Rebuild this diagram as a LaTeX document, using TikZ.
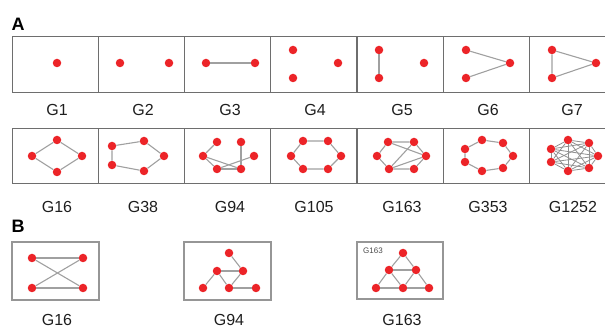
\documentclass[tikz,border=0pt]{standalone}
\usepackage{fontspec}
\setmainfont{Liberation Sans}
\definecolor{nodered}{RGB}{236,36,40}
\definecolor{edgegray}{RGB}{160,160,160}
\definecolor{boxgray}{RGB}{110,110,110}
\definecolor{bboxgray}{RGB}{150,150,150}
\definecolor{labblack}{RGB}{30,30,30}
\begin{document}
\begin{tikzpicture}[x=1pt,y=-1pt,
  v/.style={circle,fill=nodered,inner sep=0pt,minimum size=8.5pt},
  e/.style={draw=edgegray,line width=1.1pt},
  ek/.style={draw=edgegray!90!black,line width=0.8pt},
  frame/.style={draw=boxgray,line width=1pt},
  bframe/.style={draw=bboxgray,line width=1.6pt},
  lab/.style={font=\fontsize{16}{16}\selectfont,text=labblack},
  panel/.style={font=\fontsize{18}{18}\selectfont\bfseries,text=black}
]
\useasboundingbox (0,0) rectangle (605,328);
\clip (0,0) rectangle (605,328);

\node[panel] (pA) at (18,24) {A};
\node[panel] (pB) at (18,226) {B};

% ---------- Row frames ----------
\foreach \x in {12,98,184,270,357,443,529} {
  \draw[frame] (\x,37) rectangle ++(86,56);
  \draw[frame] (\x,129) rectangle ++(86,55);
}

% ---------- Row 1 labels ----------
\node[lab] (l1) at (57,110) {G1};
\node[lab] (l2) at (143,110) {G2};
\node[lab] (l3) at (230,110) {G3};
\node[lab] (l4) at (315,110) {G4};
\node[lab] (l5) at (402,110) {G5};
\node[lab] (l6) at (488,110) {G6};
\node[lab] (l7) at (572,110) {G7};

% G1
\node[v] (a1) at (57,63) {};
% G2
\node[v] (b1) at (120,63) {};
\node[v] (b2) at (169,63) {};
% G3
\node[v] (c1) at (206,63) {};
\node[v] (c2) at (255,63) {};
\draw[e] (c1) -- (c2);
% G4
\node[v] (d1) at (293,50) {};
\node[v] (d2) at (293,78) {};
\node[v] (d3) at (338,63) {};
% G5
\node[v] (f1) at (379,50) {};
\node[v] (f2) at (379,78) {};
\node[v] (f3) at (424,63) {};
\draw[e] (f1) -- (f2);
% G6
\node[v] (g1) at (466,50) {};
\node[v] (g2) at (466,78) {};
\node[v] (g3) at (510,63) {};
\draw[e] (g1) -- (g3) -- (g2);
% G7
\node[v] (h1) at (552,50) {};
\node[v] (h2) at (552,78) {};
\node[v] (h3) at (596,63) {};
\draw[e] (h1) -- (h3) -- (h2) -- (h1);

% ---------- Row 2 labels ----------
\node[lab] (m1) at (57,207) {G16};
\node[lab] (m2) at (143,207) {G38};
\node[lab] (m3) at (230,207) {G94};
\node[lab] (m4) at (314,207) {G105};
\node[lab] (m5) at (402,207) {G163};
\node[lab] (m6) at (488,207) {G353};
\node[lab] (m7) at (573,207) {G1252};

% G16
\node[v] (p1) at (32,156) {};
\node[v] (p2) at (57,140) {};
\node[v] (p3) at (82,156) {};
\node[v] (p4) at (57,172) {};
\draw[e] (p1) -- (p2) -- (p3) -- (p4) -- (p1);
% G38
\node[v] (q1) at (112,146) {};
\node[v] (q2) at (144,141) {};
\node[v] (q3) at (164,156) {};
\node[v] (q4) at (144,171) {};
\node[v] (q5) at (112,165) {};
\draw[e] (q1) -- (q2) -- (q3) -- (q4) -- (q5) -- (q1);
% G94
\node[v] (r1) at (217,142) {};
\node[v] (r2) at (241,142) {};
\node[v] (r3) at (203,156) {};
\node[v] (r4) at (254,156) {};
\node[v] (r5) at (217,169) {};
\node[v] (r6) at (241,169) {};
\draw[e] (r1) -- (r3);
\draw[e] (r3) -- (r5);
\draw[e] (r3) -- (r6);
\draw[e] (r5) -- (r6);
\draw[e] (r5) -- (r4);
\draw[e] (r6) -- (r2);
% G105
\node[v] (s1) at (303,141) {};
\node[v] (s2) at (328,141) {};
\node[v] (s3) at (341,156) {};
\node[v] (s4) at (328,169) {};
\node[v] (s5) at (303,169) {};
\node[v] (s6) at (291,156) {};
\draw[e] (s1) -- (s2) -- (s3) -- (s4) -- (s5) -- (s6) -- (s1);
% G163
\node[v] (t1) at (388,142) {};
\node[v] (t2) at (414,142) {};
\node[v] (t3) at (426,156) {};
\node[v] (t4) at (414,169) {};
\node[v] (t5) at (389,169) {};
\node[v] (t6) at (377,156) {};
\draw[e] (t6) -- (t1) -- (t2) -- (t3) -- (t4) -- (t5) -- (t6);
\draw[e] (t1) -- (t3);
\draw[e] (t5) -- (t2);
\draw[e] (t5) -- (t3);
% G353
\node[v] (u1) at (465,149) {};
\node[v] (u2) at (482,140) {};
\node[v] (u3) at (503,143) {};
\node[v] (u4) at (513,156) {};
\node[v] (u5) at (503,168) {};
\node[v] (u6) at (482,171) {};
\node[v] (u7) at (465,162) {};
\draw[e] (u1) -- (u2) -- (u3) -- (u4) -- (u5) -- (u6) -- (u7) -- (u1);
% G1252 (K7)
\node[v] (k1) at (551,149) {};
\node[v] (k2) at (568,140) {};
\node[v] (k3) at (589,143) {};
\node[v] (k4) at (598,156) {};
\node[v] (k5) at (589,168) {};
\node[v] (k6) at (568,171) {};
\node[v] (k7) at (551,162) {};
\foreach \i in {1,...,6} {
  \pgfmathtruncatemacro\nxt{\i+1}
  \foreach \j in {\nxt,...,7} {
    \draw[ek] (k\i) -- (k\j);
  }
}

% ---------- Panel B ----------
\draw[bframe] (12,242) rectangle (99,300);
\draw[bframe] (184,242) rectangle (271,300);
\draw[bframe] (357,242) rectangle (443,299);

\node[lab] (n1) at (57,320) {G16};
\node[lab] (n2) at (229,320) {G94};
\node[lab] (n3) at (402,320) {G163};

% B G16
\node[v] (w1) at (32,258) {};
\node[v] (w2) at (83,258) {};
\node[v] (w3) at (32,288) {};
\node[v] (w4) at (83,288) {};
\draw[e] (w1) -- (w2);
\draw[e] (w3) -- (w4);
\draw[e] (w1) -- (w4);
\draw[e] (w2) -- (w3);
% B G94
\node[v] (x1) at (229,253) {};
\node[v] (x2) at (217,271) {};
\node[v] (x3) at (243,271) {};
\node[v] (x4) at (203,288) {};
\node[v] (x5) at (229,288) {};
\node[v] (x6) at (256,288) {};
\draw[e] (x1) -- (x3);
\draw[e] (x2) -- (x3);
\draw[e] (x2) -- (x4);
\draw[e] (x2) -- (x5);
\draw[e] (x3) -- (x5);
\draw[e] (x5) -- (x6);
% B G163
\node[font=\fontsize{8}{8}\selectfont,text=labblack!80] (tg) at (373,251) {G163};
\node[v] (y1) at (403,253) {};
\node[v] (y2) at (389,270) {};
\node[v] (y3) at (416,270) {};
\node[v] (y4) at (376,288) {};
\node[v] (y5) at (403,288) {};
\node[v] (y6) at (429,288) {};
\draw[e] (y1) -- (y2);
\draw[e] (y1) -- (y3);
\draw[e] (y2) -- (y3);
\draw[e] (y2) -- (y4);
\draw[e] (y2) -- (y5);
\draw[e] (y3) -- (y5);
\draw[e] (y3) -- (y6);
\draw[e] (y4) -- (y5);
\draw[e] (y5) -- (y6);
\end{tikzpicture}
\end{document}
